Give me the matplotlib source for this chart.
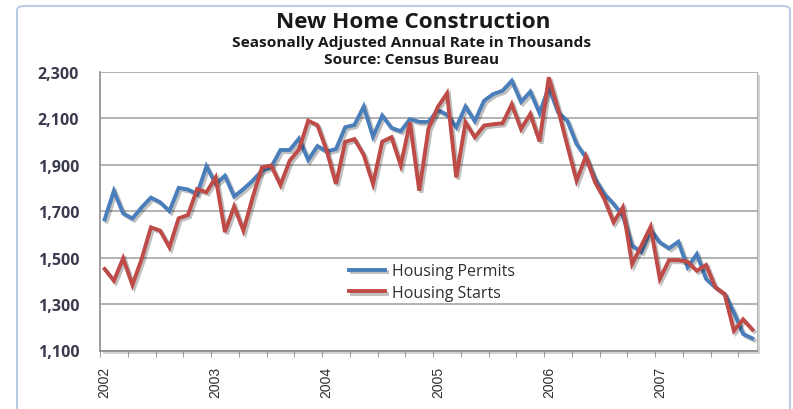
import matplotlib
matplotlib.use("Agg")
import matplotlib.pyplot as plt
import matplotlib.patheffects as pe
from matplotlib.patches import FancyBboxPatch, Rectangle
from matplotlib.ticker import FuncFormatter, FixedLocator

# ---- data (monthly, Jan 2002 - Nov 2007, SAAR thousands) ----
permits = [1664, 1787, 1690, 1668, 1716, 1758, 1738, 1700, 1800, 1793, 1773, 1893,
           1817, 1852, 1763, 1795, 1831, 1874, 1890, 1963, 1963, 2012, 1920, 1980,
           1957, 1967, 2061, 2071, 2150, 2020, 2111, 2058, 2044, 2096, 2084, 2084,
           2135, 2115, 2061, 2150, 2087, 2175, 2204, 2218, 2261, 2170, 2214, 2122,
           2233, 2125, 2089, 1989, 1931, 1838, 1774, 1731, 1680, 1551, 1525, 1620,
           1565, 1540, 1568, 1458, 1515, 1408, 1372, 1343, 1264, 1171, 1152]
starts = [1451, 1400, 1497, 1382, 1494, 1630, 1616, 1544, 1669, 1683, 1795, 1781,
          1845, 1610, 1720, 1616, 1759, 1888, 1896, 1812, 1917, 1965, 2089, 2070,
          1960, 1817, 1998, 2010, 1942, 1817, 1999, 2018, 1897, 2082, 1788, 2055,
          2148, 2207, 1845, 2082, 2018, 2068, 2074, 2078, 2160, 2053, 2118, 2000,
          2276, 2139, 1982, 1831, 1936, 1824, 1752, 1652, 1716, 1472, 1551, 1632,
          1408, 1489, 1489, 1482, 1443, 1468, 1372, 1343, 1185, 1234, 1190]
year_labels = ["2002", "2003", "2004", "2005", "2006", "2007"]
y_ticks = [1100, 1300, 1500, 1700, 1900, 2100, 2300]

title = "New Home Construction"
subtitle1 = "Seasonally Adjusted Annual Rate in Thousands"
subtitle2 = "Source: Census Bureau"

FONT = ["Open Sans", "DejaVu Sans"]
plt.rcParams["font.family"] = FONT

W, H = 793, 410
fig = plt.figure(figsize=(W / 100, H / 100), dpi=100)
fig.patch.set_facecolor("white")

# chart area border
border = FancyBboxPatch((17 / W, -0.05), (790 - 17) / W, (H - 7) / H + 0.05,
                        boxstyle="round,pad=0,rounding_size=0.01",
                        transform=fig.transFigure, facecolor="white",
                        edgecolor="#b9cde5", linewidth=1.5, zorder=0)
fig.patches.append(border)

ax_l, ax_r, ax_t, ax_b = 100, 757, 72.7, 351.5
ax = fig.add_axes([ax_l / W, 1 - ax_b / H, (ax_r - ax_l) / W, (ax_b - ax_t) / H])
ax.set_zorder(2)

# plot-area shadow
shadow = Rectangle(((ax_l + 3) / W, 1 - (ax_b + 3) / H), (ax_r - ax_l) / W, (ax_b - ax_t) / H,
                   transform=fig.transFigure, facecolor="#c8c8c8", edgecolor="none",
                   alpha=0.8, zorder=1)
fig.patches.append(shadow)

x = list(range(len(permits)))
sh = [pe.SimpleLineShadow(offset=(1.5, -1.5), shadow_color="black", alpha=0.25), pe.Normal()]
ax.plot(x, permits, color="#4a7ebb", lw=2.8, label="Housing Permits",
        path_effects=sh, solid_joinstyle="miter", zorder=3)
ax.plot(x, starts, color="#be4b48", lw=2.8, label="Housing Starts",
        path_effects=sh, solid_joinstyle="miter", zorder=4)

ax.set_xlim(-0.5, len(permits) - 0.5)
ax.set_ylim(1100, 2300)
ax.set_yticks(y_ticks)
ax.yaxis.set_major_formatter(FuncFormatter(lambda v, p: f"{int(v):,}"))
ax.grid(axis="y", color="#a6a6a6", linewidth=1.2)
ax.set_axisbelow(True)

ax.set_xticks([12 * i for i in range(len(year_labels))])
ax.set_xticklabels(year_labels, rotation=90, fontsize=10, color="#303030",
                   family=["Liberation Sans Narrow", "Liberation Sans", "DejaVu Sans"])
ax.xaxis.set_minor_locator(FixedLocator([-0.5 + 3 * k for k in range(25)]))
ax.tick_params(axis="x", which="major", length=0, pad=11)
ax.tick_params(axis="x", which="minor", length=4, color="#8c8c8c", direction="out")
ax.tick_params(axis="y", length=0, pad=15, labelsize=11.5, labelcolor="#3a3a4e")
for lab in ax.get_yticklabels():
    lab.set_fontweight("bold")

ax.spines["top"].set_visible(False)
ax.spines["left"].set_color("#8c8c8c")
ax.spines["bottom"].set_color("#8c8c8c")
ax.spines["right"].set_color("#b0b0b0")
ax.spines["left"].set_linewidth(1.2)
ax.spines["bottom"].set_linewidth(1.2)

leg = ax.legend(loc="upper left", bbox_to_anchor=(0.37, 0.335), frameon=False,
                fontsize=11.5, handlelength=2.2, handletextpad=0.45, labelspacing=0.35,
                borderaxespad=0)
for t in leg.get_texts():
    t.set_color("#303030")

fig.text(413 / W, 1 - 22 / H, title, ha="center", va="center", fontsize=16.2,
         fontweight="bold", color="#1a1a1a")
fig.text(412 / W, 1 - 43.5 / H, subtitle1, ha="center", va="center", fontsize=11.1,
         fontweight="bold", color="#1a1a1a")
fig.text(412 / W, 1 - 60.5 / H, subtitle2, ha="center", va="center", fontsize=11.1,
         fontweight="bold", color="#1a1a1a")

fig.savefig("out.png", dpi=100, facecolor="white")
